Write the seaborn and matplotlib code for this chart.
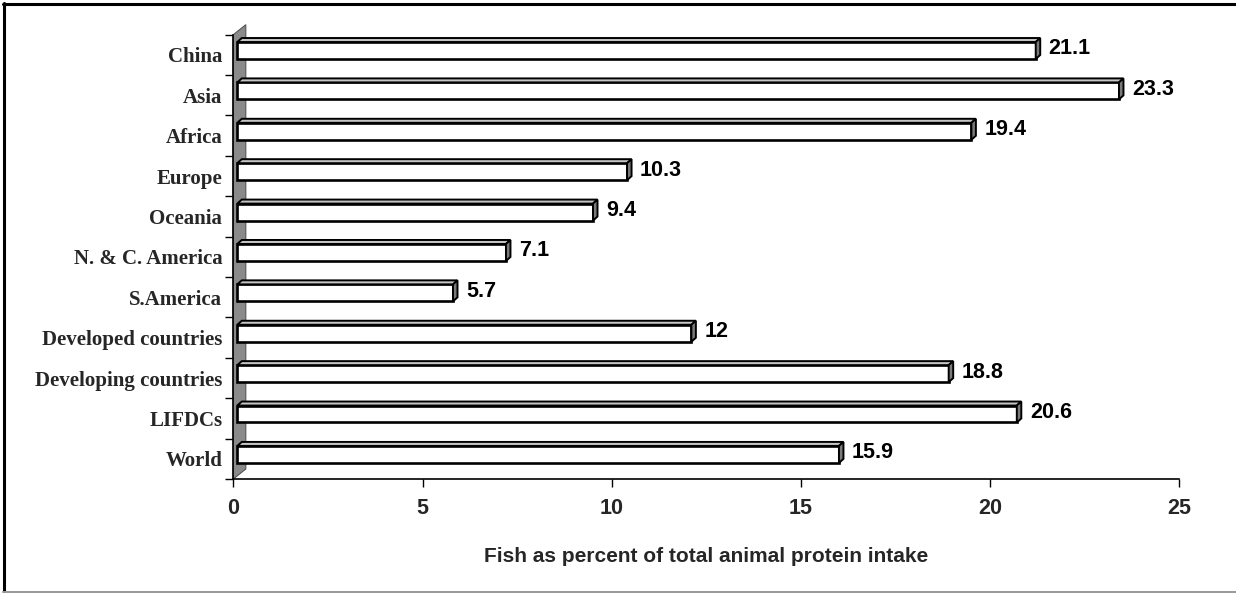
import matplotlib
matplotlib.use("Agg")
import matplotlib.pyplot as plt
import seaborn as sns
import pandas as pd
from matplotlib.patches import Polygon
from matplotlib.lines import Line2D

# ---- data ----
categories = ["China", "Asia", "Africa", "Europe", "Oceania", "N. & C. America",
              "S.America", "Developed countries", "Developing countries", "LIFDCs", "World"]
values = [21.1, 23.3, 19.4, 10.3, 9.4, 7.1, 5.7, 12, 18.8, 20.6, 15.9]
value_labels = ["21.1", "23.3", "19.4", "10.3", "9.4", "7.1", "5.7", "12", "18.8", "20.6", "15.9"]
x_ticks = [0, 5, 10, 15, 20, 25]
x_label = "Fish as percent of total animal protein intake"

sns.set_style("white")
plt.rcParams["font.family"] = ["Liberation Sans", "DejaVu Sans"]

W, H = 1236, 593
fig = plt.figure(figsize=(W / 100, H / 100), dpi=100)
ax_l, ax_r, ax_t, ax_b = 233.3, 1179.3, 34.7, 479.0
ax = fig.add_axes([ax_l / W, 1 - ax_b / H, (ax_r - ax_l) / W, (ax_b - ax_t) / H])

df = pd.DataFrame({"category": categories, "value": values})
sns.barplot(data=df, x="value", y="category", orient="h", color="white",
            edgecolor="black", linewidth=1.9, width=0.42, saturation=1,
            ax=ax, zorder=3)

n = len(categories)
ax.set_xlim(0, 25)
ax.set_ylim(n - 0.5, -0.5)

# pixel -> data conversions
ppx = (ax_r - ax_l) / 25.0
ppy = (ax_b - ax_t) / n

# 3D offsets (pixels)
front_dx, front_dy = 4.0, 4.4     # front face shifted right / up
depth_dx, depth_dy = 4.5, 4.0     # bar depth
wall_dx, wall_dy = 12.5, 10.0     # wall depth

def dx(px):
    return px / ppx

def dy(px):  # up in pixels -> data (inverted y axis)
    return -px / ppy

# back wall
wall = Polygon([(0, n - 0.5), (0, -0.5), (dx(wall_dx), -0.5 + dy(wall_dy)),
                (dx(wall_dx), n - 0.5 + dy(wall_dy))],
               closed=True, facecolor="#8a8a8a", edgecolor="#555555", linewidth=0.8,
               zorder=1, clip_on=False)
ax.add_patch(wall)

# shift front faces and add top / side faces
for p in list(ax.patches):
    if p is wall:
        continue
    x0 = p.get_x()
    w = p.get_width()
    y0 = p.get_y()
    h = p.get_height()
    x0s = x0 + dx(front_dx)
    x1s = x0 + w + dx(front_dx)
    ytop = y0 + dy(front_dy)            # upper edge on screen (smaller index)
    ybot = y0 + h + dy(front_dy)
    p.set_x(x0s)
    p.set_y(ytop)
    p.set_clip_on(False)
    top = Polygon([(x0s, ytop), (x1s, ytop), (x1s + dx(depth_dx), ytop + dy(depth_dy)),
                   (x0s + dx(depth_dx), ytop + dy(depth_dy))], closed=True,
                  facecolor="#c4c4c4", edgecolor="black", linewidth=1.4, zorder=4,
                  clip_on=False)
    side = Polygon([(x1s, ytop), (x1s, ybot), (x1s + dx(depth_dx), ybot + dy(depth_dy)),
                    (x1s + dx(depth_dx), ytop + dy(depth_dy))], closed=True,
                   facecolor="#7a7a7a", edgecolor="black", linewidth=1.4, zorder=4,
                   clip_on=False)
    ax.add_patch(top)
    ax.add_patch(side)

# value labels
for i, (v, lab) in enumerate(zip(values, value_labels)):
    ax.annotate(lab, xy=(v, i), xytext=(17 * 0.72, 6 * 0.72), textcoords="offset points",
                ha="left", va="center", fontsize=15.5, fontweight="bold",
                family="Liberation Sans", color="black", zorder=5, annotation_clip=False)

# axes styling
for s in ["top", "right"]:
    ax.spines[s].set_visible(False)
for s in ["left", "bottom"]:
    ax.spines[s].set_color("black")
    ax.spines[s].set_linewidth(1.2)
    ax.spines[s].set_zorder(6)

ax.set_xticks(x_ticks)
ax.set_xticklabels([str(t) for t in x_ticks], fontsize=15.5, fontweight="bold",
                   family="Liberation Sans")
ax.tick_params(axis="x", direction="out", length=8 * 0.72, width=1, color="black",
               pad=8, bottom=True)

ax.set_yticks(range(n))
ax.set_yticklabels(categories, fontsize=15, fontweight="bold", family="Liberation Serif")
ax.set_yticks([i - 0.5 for i in range(n + 1)], minor=True)
ax.tick_params(axis="y", which="major", length=0, pad=11 * 0.72, left=True)
ax.tick_params(axis="y", which="minor", direction="out", length=8 * 0.72, width=1,
               color="black", left=True)

ax.set_xlabel(x_label, fontsize=15, fontweight="bold", family="Liberation Sans",
              labelpad=20)
ax.set_ylabel("")
ax.grid(False)

# outer frame
fig.add_artist(Line2D([3 / W, 1.0], [1 - 4 / H, 1 - 4 / H], color="black", linewidth=2.2,
                      transform=fig.transFigure))
fig.add_artist(Line2D([4 / W, 4 / W], [1 - 3 / H, 1 - 591.5 / H], color="black",
                      linewidth=2.2, transform=fig.transFigure))
fig.add_artist(Line2D([3 / W, 1.0], [1 - 591.5 / H, 1 - 591.5 / H], color="#999999",
                      linewidth=1.4, transform=fig.transFigure))

fig.savefig("out.png", dpi=100, facecolor="white")
